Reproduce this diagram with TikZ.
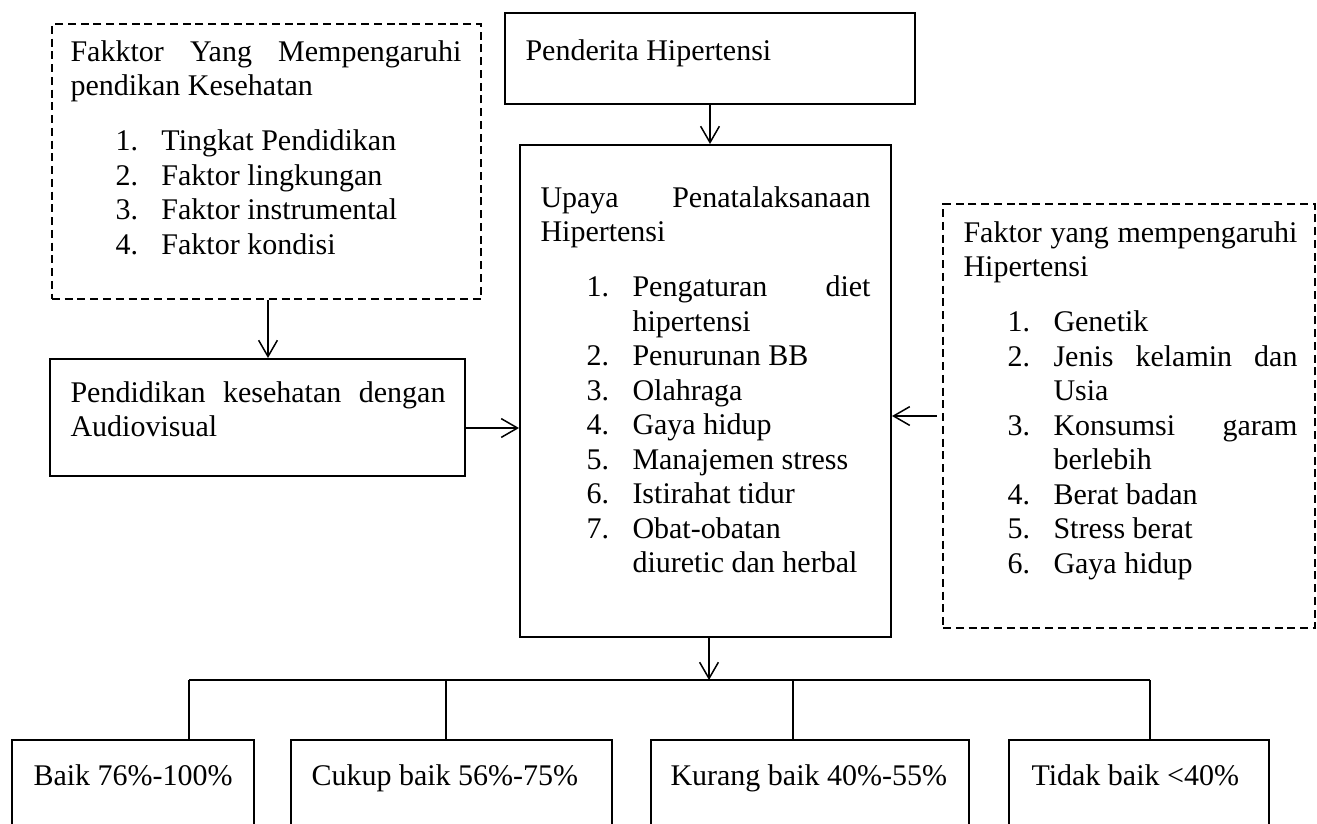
\documentclass[tikz,border=0pt]{standalone}
\usepackage{fontspec}
\setmainfont{Liberation Serif}
\usetikzlibrary{arrows.meta}
\newcommand\lit[2]{\par\noindent\llap{\makebox[18.4pt][l]{#1}}#2}
\newcommand\setpar{\fontsize{12pt}{13.8pt}\selectfont\hyphenpenalty=10000 \exhyphenpenalty=10000 \tolerance=10000 \hbadness=10000 \parindent=0pt}
\begin{document}
\begin{tikzpicture}[x=0.4pt,y=-0.4pt,
  sbox/.style={draw, line width=0.8pt, inner sep=0},
  dbox/.style={draw, line width=0.55pt, dash pattern=on 3.2pt off 1.9pt, inner sep=0},
  arr/.style={line width=0.6pt, -{Straight Barb[length=6.5pt,width=7.5pt]}},
  conn/.style={line width=0.8pt},
  txt/.style={inner sep=0, anchor=base west, font=\fontsize{12pt}{13.8pt}\selectfont}]
\useasboundingbox (0,0) rectangle (1317,823);
\clip (0,0) rectangle (1317,823);

% boxes
\node[dbox, minimum width=171.6pt, minimum height=110pt] (f1) at (266.5,161.5) {};
\node[sbox, minimum width=164pt, minimum height=36.4pt] (pend) at (710,58.5) {};
\node[sbox, minimum width=148.4pt, minimum height=196.8pt] (main) at (705.5,391) {};
\node[sbox, minimum width=166pt, minimum height=46.8pt] (pk) at (257.5,417.5) {};
\node[dbox, minimum width=148.8pt, minimum height=169.6pt] (f2) at (1129,416) {};
\node[sbox, minimum width=96.8pt, minimum height=60pt, anchor=north west] (b1) at (11,739) {};
\node[sbox, minimum width=128.4pt, minimum height=60pt, anchor=north west] (b2) at (290,739) {};
\node[sbox, minimum width=127.2pt, minimum height=60pt, anchor=north west] (b3) at (650,739) {};
\node[sbox, minimum width=104pt, minimum height=60pt, anchor=north west] (b4) at (1008,739) {};

% texts
\node[txt] (tpend) at (525,60) {Penderita Hipertensi};
\node[txt] (tf1) at (70,61) {\begin{minipage}[t]{156.4pt}\setpar
Fakktor Yang Mempengaruhi\linebreak pendikan Kesehatan\par
\vspace{8.2pt}\leftskip=36.4pt
\lit{1.}{Tingkat Pendidikan}
\lit{2.}{Faktor lingkungan}
\lit{3.}{Faktor instrumental}
\lit{4.}{Faktor kondisi}\par
\end{minipage}};
\node[txt] (tmain) at (540,207) {\begin{minipage}[t]{132pt}\setpar
Upaya Penatalaksanaan\linebreak Hipertensi\par
\vspace{8.2pt}\leftskip=36.8pt
\lit{1.}{Pengaturan diet\linebreak hipertensi}
\lit{2.}{Penurunan BB}
\lit{3.}{Olahraga}
\lit{4.}{Gaya hidup}
\lit{5.}{Manajemen stress}
\lit{6.}{Istirahat tidur}
\lit{7.}{Obat-obatan\newline diuretic dan herbal}\par
\end{minipage}};
\node[txt] (tf2) at (963,242) {\begin{minipage}[t]{133.6pt}\setpar
Faktor yang mempengaruhi\linebreak Hipertensi\par
\vspace{8.2pt}\leftskip=36pt
\lit{1.}{Genetik}
\lit{2.}{Jenis kelamin dan\linebreak Usia}
\lit{3.}{Konsumsi garam\linebreak berlebih}
\lit{4.}{Berat badan}
\lit{5.}{Stress berat}
\lit{6.}{Gaya hidup}\par
\end{minipage}};
\node[txt] (tpk) at (70,402) {\begin{minipage}[t]{150pt}\setpar
Pendidikan kesehatan dengan\linebreak Audiovisual\par
\end{minipage}};
\node[txt] (tb1) at (33,785) {Baik 76\%-100\%};
\node[txt] (tb2) at (311,785) {Cukup baik 56\%-75\%};
\node[txt] (tb3) at (670,785) {Kurang baik 40\%-55\%};
\node[txt] (tb4) at (1031,785) {Tidak baik <40\%};

% connectors
\coordinate (ypk) at (0,428);
\coordinate (j0) at (709,680);
\coordinate (j1) at (189,680);
\coordinate (j2) at (446,680);
\coordinate (j3) at (793,680);
\coordinate (j4) at (1150,680);
\coordinate (f2s) at (937,416);

\draw[arr] (f1.south -| 268,0) -- (pk.north -| 268,0);
\draw[arr] (pend.south) -- (pend.south |- main.north);
\draw[arr] (pk.east |- ypk) -- (main.west |- ypk);
\draw[arr] (f2s) -- (main.east |- f2s);
\draw[arr] (main.south -| j0) -- (j0);
\draw[conn] (j1) -- (j4);
\draw[conn] (j1) -- (j1 |- b1.north);
\draw[conn] (j2) -- (j2 |- b2.north);
\draw[conn] (j3) -- (j3 |- b3.north);
\draw[conn] (j4) -- (j4 |- b4.north);
\end{tikzpicture}
\end{document}
